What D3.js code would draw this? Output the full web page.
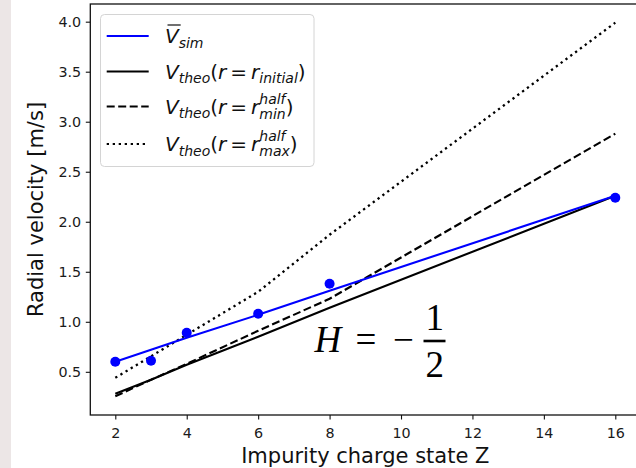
<!DOCTYPE html>
<html><head><meta charset="utf-8">
<script src="https://cdn.jsdelivr.net/npm/d3@7"></script>
<style>html,body{margin:0;padding:0;background:#fff;} svg{display:block;}</style>
</head><body>
<svg id="chart" width="636" height="468"></svg>
<script>
// ---- data ----
const chargeStates = [2, 3, 4, 6, 8, 16];
const vSimMarkers  = [0.60, 0.61, 0.89, 1.08, 1.38, 2.24];
const vSimFit      = [0.60, 0.72, 0.84, 1.07, 1.31, 2.26];
const vTheoInitial = [0.28, 0.42, 0.57, 0.85, 1.14, 2.26];
const vTheoHalfMin = [0.255, 0.42, 0.58, 0.91, 1.23, 2.88];
const vTheoHalfMax = [0.44, 0.655, 0.87, 1.30, 1.87, 3.99];
const xTicks = [2, 4, 6, 8, 10, 12, 14, 16];
const yTicks = [0.5, 1.0, 1.5, 2.0, 2.5, 3.0, 3.5, 4.0];
const xLabel = "Impurity charge state Z";
const yLabel = "Radial velocity [m/s]";

const svg = d3.select("#chart");
svg.append("rect").attr("x", 0).attr("y", 0).attr("width", 11).attr("height", 468).attr("fill", "#ece6e6");

const M = {left: 90.3, top: 4, right: 640.3, bottom: 415};
const allY = [].concat(vSimMarkers, vSimFit, vTheoInitial, vTheoHalfMin, vTheoHalfMax);
const yMin = d3.min(allY), yMax = d3.max(allY), yPad = (yMax - yMin) * 0.05;
const xMin = d3.min(chargeStates), xMax = d3.max(chargeStates), xPad = (xMax - xMin) * 0.05;
const x = d3.scaleLinear().domain([xMin - xPad, xMax + xPad]).range([M.left, M.right]);
const y = d3.scaleLinear().domain([yMin - yPad, yMax + yPad]).range([M.bottom, M.top]);

const FONT = "'DejaVu Sans', sans-serif";
const INK = "#111";

// clip
svg.append("clipPath").attr("id", "clip").append("rect")
  .attr("x", M.left).attr("y", M.top).attr("width", M.right - M.left).attr("height", M.bottom - M.top);

const plot = svg.append("g").attr("clip-path", "url(#clip)");
const lineGen = d3.line().x((d, i) => x(chargeStates[i])).y(d => y(d));

const LW = 2.1;
plot.append("path").datum(vTheoHalfMax).attr("d", lineGen).attr("fill", "none")
  .attr("stroke", "#000").attr("stroke-width", LW + 0.2).attr("stroke-dasharray", "2.3,3.7");
plot.append("path").datum(vTheoHalfMin).attr("d", lineGen).attr("fill", "none")
  .attr("stroke", "#000").attr("stroke-width", LW).attr("stroke-dasharray", "8,3.5");
plot.append("path").datum(vTheoInitial).attr("d", lineGen).attr("fill", "none")
  .attr("stroke", "#000").attr("stroke-width", LW);
plot.append("path").datum(vSimFit).attr("d", lineGen).attr("fill", "none")
  .attr("stroke", "#0000ff").attr("stroke-width", LW);
plot.selectAll("circle.pt").data(vSimMarkers).enter().append("circle").attr("class", "pt")
  .attr("cx", (d, i) => x(chargeStates[i])).attr("cy", d => y(d)).attr("r", 5).attr("fill", "#0000ff");

// axes
const TICKFS = "14.3px";
const xAxis = svg.append("g").attr("transform", `translate(0,${M.bottom})`)
  .call(d3.axisBottom(x).tickValues(xTicks).tickSize(4.5).tickFormat(d3.format("d")));
xAxis.selectAll("text").attr("y", 0).attr("dy", 0).attr("transform", "translate(0,23)");
const yAxis = svg.append("g").attr("transform", `translate(${M.left},0)`)
  .call(d3.axisLeft(y).tickValues(yTicks).tickSize(4.5).tickPadding(4.6).tickFormat(d3.format(".1f")));
[xAxis, yAxis].forEach(a => {
  a.select(".domain").remove();
  a.selectAll("line").attr("stroke", INK).attr("stroke-width", 1.1);
  a.selectAll("text").style("font-family", FONT).style("font-size", TICKFS).attr("fill", "#1a1a1a");
});

// spines
const sp = svg.append("g").attr("stroke", INK).attr("stroke-width", 1.3).attr("fill", "none");
sp.append("rect").attr("x", M.left).attr("y", M.top).attr("width", M.right - M.left).attr("height", M.bottom - M.top);

// axis labels
svg.append("text").attr("x", (M.left + M.right) / 2).attr("y", 463).attr("text-anchor", "middle")
  .style("font-family", FONT).style("font-size", "21px").attr("fill", "#111").text(xLabel);
svg.append("text").attr("transform", `translate(43,${(M.top + M.bottom) / 2}) rotate(-90)`).attr("text-anchor", "middle")
  .style("font-family", FONT).style("font-size", "21px").attr("fill", "#111").text(yLabel);

// legend
const F = 20, S = F * 0.7;
const leg = svg.append("g");
leg.append("rect").attr("x", 100.5).attr("y", 14.5).attr("width", 213.5).attr("height", 152).attr("rx", 4)
  .attr("fill", "rgba(255,255,255,0.85)").attr("stroke", "#d4d4d4").attr("stroke-width", 1);

function measure(str, size, italic) {
  const t = svg.append("text").style("font-family", FONT).style("font-size", size + "px")
    .style("font-style", italic ? "italic" : "normal").text(str);
  const w = t.node().getComputedTextLength();
  t.remove();
  return w;
}
function mathLabel(x0, base, parts) {
  const t = leg.append("text").attr("x", x0).attr("y", base).style("font-family", FONT).attr("fill", "#111");
  parts.forEach(p => {
    if (p.k === "it" || p.k === "up") {
      t.append("tspan").attr("y", base).attr("dx", p.dx || 0).style("font-size", F + "px")
        .style("font-style", p.k === "it" ? "italic" : "normal").text(p.t);
    } else if (p.k === "sub") {
      t.append("tspan").attr("y", base + 0.24 * F).style("font-size", S + "px").style("font-style", "italic").text(p.t);
    } else if (p.k === "supsub") {
      const wSup = measure(p.sup, S, true), wSub = measure(p.sub, S, true);
      t.append("tspan").attr("y", base - 0.5 * F).style("font-size", S + "px").style("font-style", "italic").text(p.sup);
      t.append("tspan").attr("y", base + 0.26 * F).attr("dx", -wSup).style("font-size", S + "px").style("font-style", "italic").text(p.sub);
      if (wSup > wSub) t.append("tspan").attr("dx", wSup - wSub).style("font-size", S + "px").text("");
    }
  });
  return t;
}
const eqSp = 0.2 * F;
const legendRows = [
  {stroke: "#0000ff", dash: null, base: 43,
   parts: [{k: "it", t: "V"}, {k: "sub", t: "sim"}], bar: true},
  {stroke: "#000", dash: null, base: 78.5,
   parts: [{k: "it", t: "V"}, {k: "sub", t: "theo"}, {k: "up", t: "("}, {k: "it", t: "r"},
           {k: "up", t: "=", dx: eqSp}, {k: "it", t: "r", dx: eqSp}, {k: "sub", t: "initial"}, {k: "up", t: ")"}]},
  {stroke: "#000", dash: "8,3.5", base: 113.5,
   parts: [{k: "it", t: "V"}, {k: "sub", t: "theo"}, {k: "up", t: "("}, {k: "it", t: "r"},
           {k: "up", t: "=", dx: eqSp}, {k: "it", t: "r", dx: eqSp}, {k: "supsub", sup: "half", sub: "min"}, {k: "up", t: ")"}]},
  {stroke: "#000", dash: "2.3,3.7", base: 151,
   parts: [{k: "it", t: "V"}, {k: "sub", t: "theo"}, {k: "up", t: "("}, {k: "it", t: "r"},
           {k: "up", t: "=", dx: eqSp}, {k: "it", t: "r", dx: eqSp}, {k: "supsub", sup: "half", sub: "max"}, {k: "up", t: ")"}]}
];
const TX = 165;
legendRows.forEach(r => {
  const ly = r.base - 7;
  const ln = leg.append("line").attr("x1", 106.7).attr("x2", 148.7).attr("y1", ly).attr("y2", ly)
    .attr("stroke", r.stroke).attr("stroke-width", LW);
  if (r.dash) ln.attr("stroke-dasharray", r.dash);
  mathLabel(TX, r.base, r.parts);
  if (r.bar) {
    leg.append("line").attr("x1", TX + 2.5).attr("x2", TX + 2.5 + 0.66 * F).attr("y1", r.base - 0.9 * F).attr("y2", r.base - 0.9 * F)
      .attr("stroke", "#111").attr("stroke-width", 1.2);
  }
});

// annotation H = -1/2
const SERIF = "'Liberation Serif', 'Times New Roman', serif";
const ann = svg.append("g").attr("fill", "#000").style("font-family", SERIF).style("font-size", "37px");
const eq = ann.append("text").attr("y", 352);
eq.append("tspan").attr("x", 314.5).style("font-style", "italic").text("H");
eq.append("tspan").attr("x", 355.5).text("=");
eq.append("tspan").attr("x", 393).text("\u2212");
ann.append("text").attr("x", 434.8).attr("y", 330).attr("text-anchor", "middle").text("1");
ann.append("text").attr("x", 434.8).attr("y", 377).attr("text-anchor", "middle").text("2");
ann.append("line").attr("x1", 423.5).attr("x2", 445.5).attr("y1", 341).attr("y2", 341).attr("stroke", "#000").attr("stroke-width", 2.6);
</script>
</body></html>
